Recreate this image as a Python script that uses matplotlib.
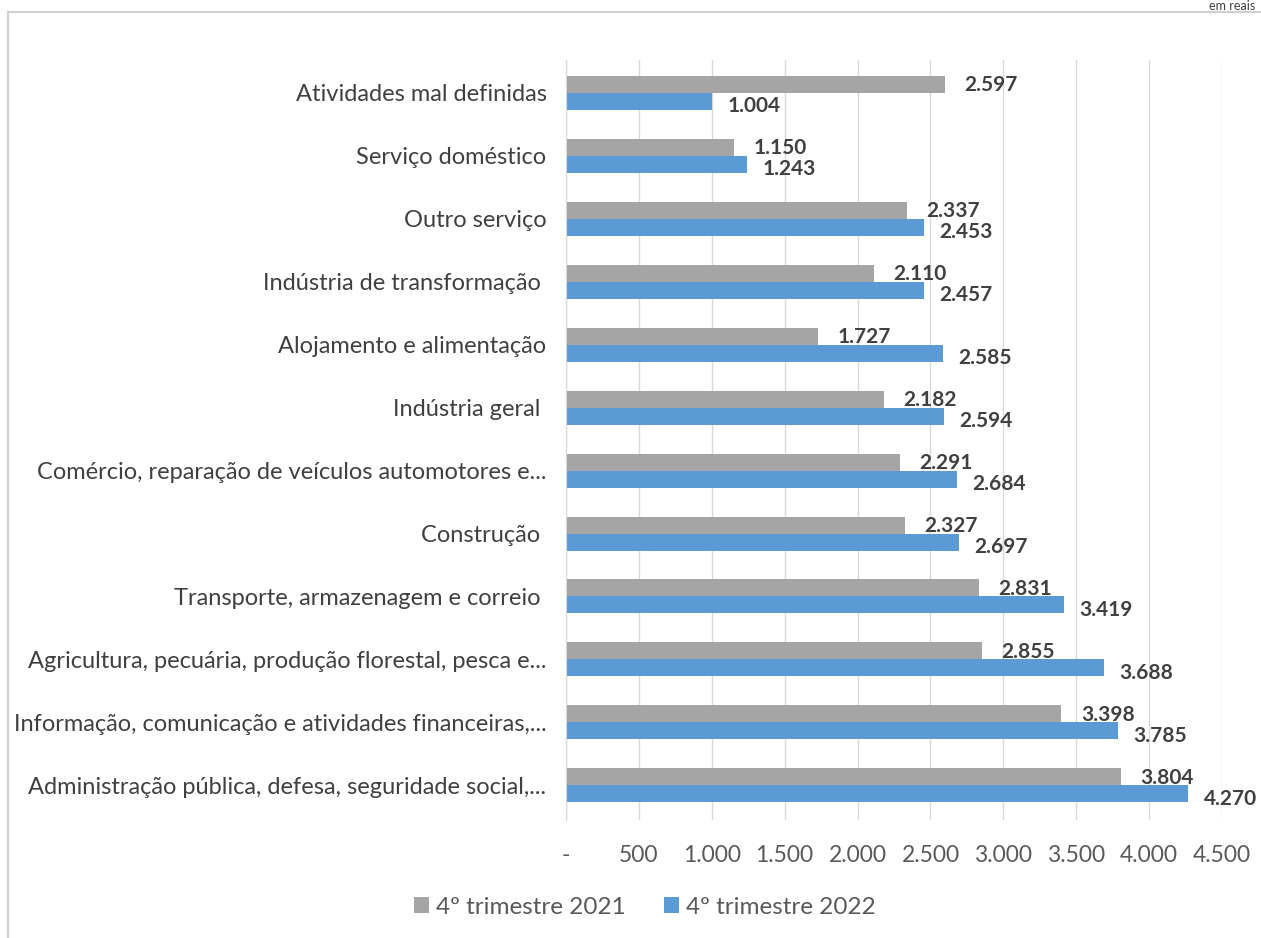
import matplotlib
matplotlib.use("Agg")
import matplotlib.pyplot as plt
from matplotlib.patches import Rectangle
import numpy as np

categories = [
    "Atividades mal definidas",
    "Serviço doméstico",
    "Outro serviço",
    "Indústria de transformação ",
    "Alojamento e alimentação",
    "Indústria geral ",
    "Comércio, reparação de veículos automotores e...",
    "Construção ",
    "Transporte, armazenagem e correio ",
    "Agricultura, pecuária, produção florestal, pesca e...",
    "Informação, comunicação e atividades financeiras,...",
    "Administração pública, defesa, seguridade social,...",
]
values_2021 = [2597, 1150, 2337, 2110, 1727, 2182, 2291, 2327, 2831, 2855, 3398, 3804]
values_2022 = [1004, 1243, 2453, 2457, 2585, 2594, 2684, 2697, 3419, 3688, 3785, 4270]
xticks = [0, 500, 1000, 1500, 2000, 2500, 3000, 3500, 4000, 4500]
xticklabels = ["-", "500", "1.000", "1.500", "2.000", "2.500", "3.000", "3.500", "4.000", "4.500"]
series_names = ["4º trimestre 2021", "4º trimestre 2022"]

GRAY = "#A5A5A5"
BLUE = "#5B9BD5"
FONT = ["Lato", "DejaVu Sans"]

def fmt(v):
    return f"{v:,}".replace(",", ".")

fig = plt.figure(figsize=(12.61, 9.38), dpi=100)
fig.patch.set_facecolor("white")
# outer frame
fig.add_artist(Rectangle((8/1261, -0.01), 1.1, 1 - 12/938 + 0.01, transform=fig.transFigure,
                         fill=False, edgecolor="#D0D0D0", linewidth=1.5))
fig.text(1255/1261, 1.0, "em reais", ha="right", va="top", fontsize=9,
         color="#404040", family=FONT)

ax = fig.add_axes([566/1261, 1 - 820/938, (1222 - 566)/1261, (820 - 60)/938])
y = np.arange(len(categories))
h = 0.27
ax.barh(y - h/2, values_2021, height=h, color=GRAY, label=series_names[0], zorder=3)
ax.barh(y + h/2, values_2022, height=h, color=BLUE, label=series_names[1], zorder=3)

for i in range(len(categories)):
    ax.annotate(fmt(values_2021[i]), (values_2021[i], y[i] - h/2), xytext=(14, -0.5),
                textcoords="offset points", ha="left", va="center", fontsize=15,
                fontweight="bold", color="#404040", family=FONT)
    ax.annotate(fmt(values_2022[i]), (values_2022[i], y[i] + h/2), xytext=(11, -3.5),
                textcoords="offset points", ha="left", va="center", fontsize=15,
                fontweight="bold", color="#404040", family=FONT)

ax.set_xlim(0, 4500)
ax.set_ylim(len(categories) - 1 + 0.55, -0.52)
ax.set_xticks(xticks)
ax.set_xticklabels(xticklabels, fontsize=16.5, color="#595959", family=FONT)
ax.set_yticks(y)
ax.set_yticklabels(categories, fontsize=17, color="#404040", family=FONT)
ax.tick_params(axis="y", length=0, pad=14)
ax.tick_params(axis="x", length=0, pad=18)
ax.grid(axis="x", color="#D9D9D9", linewidth=1, zorder=0)
for s in ["top", "right", "bottom"]:
    ax.spines[s].set_visible(False)
ax.spines["left"].set_color("#D9D9D9")
ax.spines["left"].set_zorder(4)

leg = fig.legend(loc="center", bbox_to_anchor=(645/1261, 1 - 907/938), ncol=2, frameon=False,
                 prop={"family": FONT, "size": 17.5}, handlelength=0.6, handleheight=0.6,
                 columnspacing=1.6, handletextpad=0.3)
for t in leg.get_texts():
    t.set_color("#595959")

fig.savefig("out.png", dpi=100, facecolor="white")
